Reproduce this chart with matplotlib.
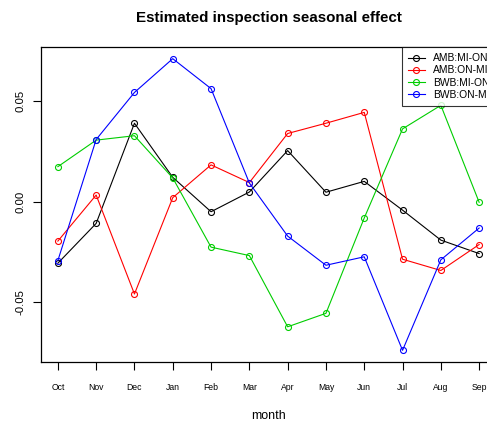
import matplotlib
matplotlib.use("Agg")
import matplotlib.pyplot as plt

months = ["Oct", "Nov", "Dec", "Jan", "Feb", "Mar", "Apr", "May", "Jun", "Jul", "Aug", "Sep"]
series_names = ["AMB:MI-ON", "AMB:ON-MI", "BWB:MI-ON", "BWB:ON-MI"]
amb_mi_on = [-0.0306, -0.0108, 0.0390, 0.0121, -0.0050, 0.0048, 0.0254, 0.0047, 0.0101, -0.0042, -0.0191, -0.0258]
amb_on_mi = [-0.0196, 0.0033, -0.0459, 0.0020, 0.0183, 0.0095, 0.0339, 0.0390, 0.0444, -0.0286, -0.0342, -0.0213]
bwb_mi_on = [0.0174, 0.0306, 0.0328, 0.0118, -0.0226, -0.0268, -0.0622, -0.0555, -0.0081, 0.0362, 0.0479, -0.0003]
bwb_on_mi = [-0.0293, 0.0309, 0.0543, 0.0711, 0.0562, 0.0093, -0.0171, -0.0316, -0.0274, -0.0739, -0.0289, -0.0131]
colors = ["black", "#FF0000", "#00CD00", "#0000FF"]
y_ticks = [-0.05, 0.0, 0.05]
y_tick_labels = ["-0.05", "0.00", "0.05"]

plt.rcParams["font.family"] = ["Liberation Sans", "DejaVu Sans"]
W, H = 487, 421
fig = plt.figure(figsize=(W / 100, H / 100), dpi=100)
x0, x1, yb, yt = 41, 496, 362, 47
ax = fig.add_axes([x0 / W, (H - yb) / H, (x1 - x0) / W, (yb - yt) / H])

xs = list(range(1, len(months) + 1))
all_series = [amb_mi_on, amb_on_mi, bwb_mi_on, bwb_on_mi]
for vals, c, name in zip(all_series, colors, series_names):
    ax.plot(xs, vals, color=c, lw=0.8, marker="o", markersize=4.3,
            markerfacecolor="none", markeredgecolor=c, markeredgewidth=0.8, label=name)

allv = [v for s in all_series for v in s]
lo, hi = min(allv), max(allv)
pad = (hi - lo) * 0.04
ax.set_ylim(lo - pad, hi + pad)
ax.set_xlim(1 - 11 * 0.04, 12 + 11 * 0.04)

ax.set_xticks(xs)
ax.set_xticklabels(months, fontsize=6.2)
ax.set_yticks(y_ticks)
ax.set_yticklabels(y_tick_labels, fontsize=8.2, rotation=90, va="center")
ax.tick_params(axis="both", direction="out", length=6, width=0.8, color="black")
ax.tick_params(axis="x", pad=9)
ax.tick_params(axis="y", pad=5)
for s in ax.spines.values():
    s.set_linewidth(0.9)
    s.set_color("black")

fig.text((x0 + x1) / 2 / W, 1 - 419.3 / H, "month", ha="center", va="baseline", fontsize=9)
fig.text((x0 + x1) / 2 / W, 1 - 18 / H, "Estimated inspection seasonal effect",
         ha="center", va="center", fontsize=10.9, fontweight="bold")

leg = ax.legend(loc="upper right", bbox_to_anchor=(1, 1), borderaxespad=0,
                fontsize=7.4, frameon=True, fancybox=False, handlelength=1.6,
                handletextpad=0.85, labelspacing=0.22, borderpad=0.6)
leg.get_frame().set_edgecolor("black")
leg.get_frame().set_linewidth(0.8)

fig.savefig("out.png", dpi=100)
